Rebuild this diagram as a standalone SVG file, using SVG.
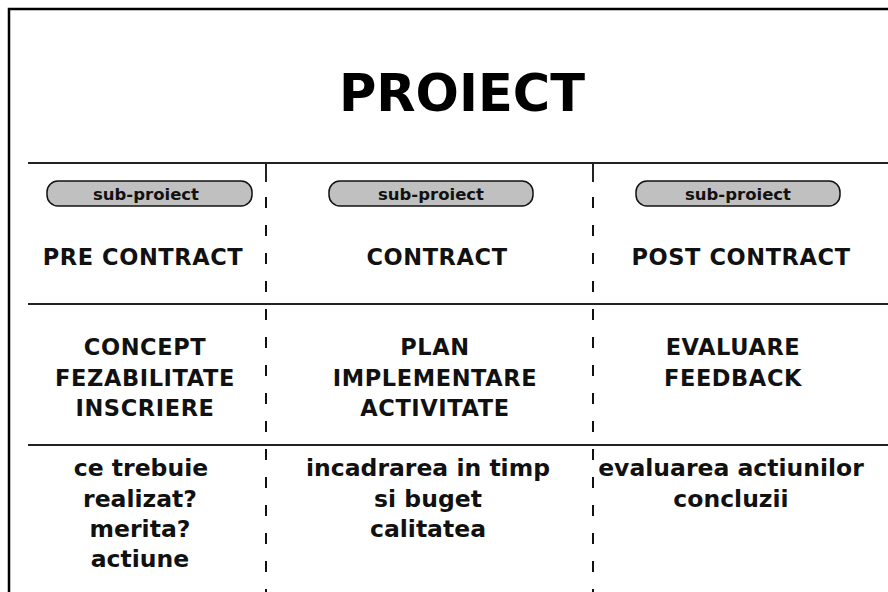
<svg xmlns="http://www.w3.org/2000/svg" width="888" height="592" viewBox="0 0 888 592">
  <style>
    .frame { fill: none; stroke: #000; stroke-width: 2.5; }
    .rule { stroke: #222; stroke-width: 2; }
    .divider { stroke: #111; stroke-width: 2; stroke-dasharray: 11 17; }
    .pill { fill: #c0c0c0; stroke: #111; stroke-width: 1.5; }
    .title { font-family: "DejaVu Sans", Verdana, sans-serif; font-weight: bold; font-size: 51px; text-anchor: middle; fill: #000; }
    .tag { font-family: "DejaVu Sans", Verdana, sans-serif; font-weight: bold; font-size: 16.5px; text-anchor: middle; fill: #111; }
    .head { font-family: "DejaVu Sans", Verdana, sans-serif; font-weight: bold; font-size: 22.5px; letter-spacing: 0.6px; text-anchor: middle; fill: #111; }
    .note { font-family: "DejaVu Sans", Verdana, sans-serif; font-weight: bold; font-size: 23.5px; text-anchor: middle; fill: #111; }
  </style>
  <rect width="888" height="592" fill="#fff"/>

  <!-- outer frame (open on the right and bottom) -->
  <path class="frame" d="M9,592 V9 H888"/>

  <g id="title">
    <text class="title" x="462" y="111">PROIECT</text>
  </g>

  <!-- table rules and column dividers -->
  <g id="connectors">
    <line class="rule" x1="28" y1="163" x2="888" y2="163"/>
    <line class="rule" x1="28" y1="304" x2="888" y2="304"/>
    <line class="rule" x1="28" y1="445" x2="888" y2="445"/>
    <line class="rule" x1="266" y1="163" x2="266" y2="182"/>
    <line class="rule" x1="593" y1="163" x2="593" y2="182"/>
    <line class="divider" x1="266" y1="197" x2="266" y2="592"/>
    <line class="divider" x1="593" y1="197" x2="593" y2="592"/>
  </g>

  <g id="pre-contract">
    <rect class="pill" x="47" y="181" width="205" height="25" rx="11"/>
    <text class="tag" x="146" y="200">sub-proiect</text>
    <text class="head" x="143" y="265">PRE CONTRACT</text>
    <text class="head" x="145" y="355">CONCEPT</text>
    <text class="head" x="145" y="386">FEZABILITATE</text>
    <text class="head" x="145" y="416">INSCRIERE</text>
    <text class="note" x="141" y="476">ce trebuie</text>
    <text class="note" x="140" y="507">realizat?</text>
    <text class="note" x="140" y="537">merita?</text>
    <text class="note" x="140" y="567">actiune</text>
  </g>

  <g id="contract">
    <rect class="pill" x="329" y="181" width="204" height="25" rx="11"/>
    <text class="tag" x="431" y="200">sub-proiect</text>
    <text class="head" x="437" y="265">CONTRACT</text>
    <text class="head" x="435" y="355">PLAN</text>
    <text class="head" x="435" y="386">IMPLEMENTARE</text>
    <text class="head" x="435" y="416">ACTIVITATE</text>
    <text class="note" x="428" y="476">incadrarea in timp</text>
    <text class="note" x="428" y="507">si buget</text>
    <text class="note" x="428" y="537">calitatea</text>
  </g>

  <g id="post-contract">
    <rect class="pill" x="636" y="181" width="204" height="25" rx="11"/>
    <text class="tag" x="738" y="200">sub-proiect</text>
    <text class="head" x="741" y="265">POST CONTRACT</text>
    <text class="head" x="733" y="355">EVALUARE</text>
    <text class="head" x="733" y="386">FEEDBACK</text>
    <text class="note" x="731" y="476">evaluarea actiunilor</text>
    <text class="note" x="731" y="507">concluzii</text>
  </g>
</svg>
